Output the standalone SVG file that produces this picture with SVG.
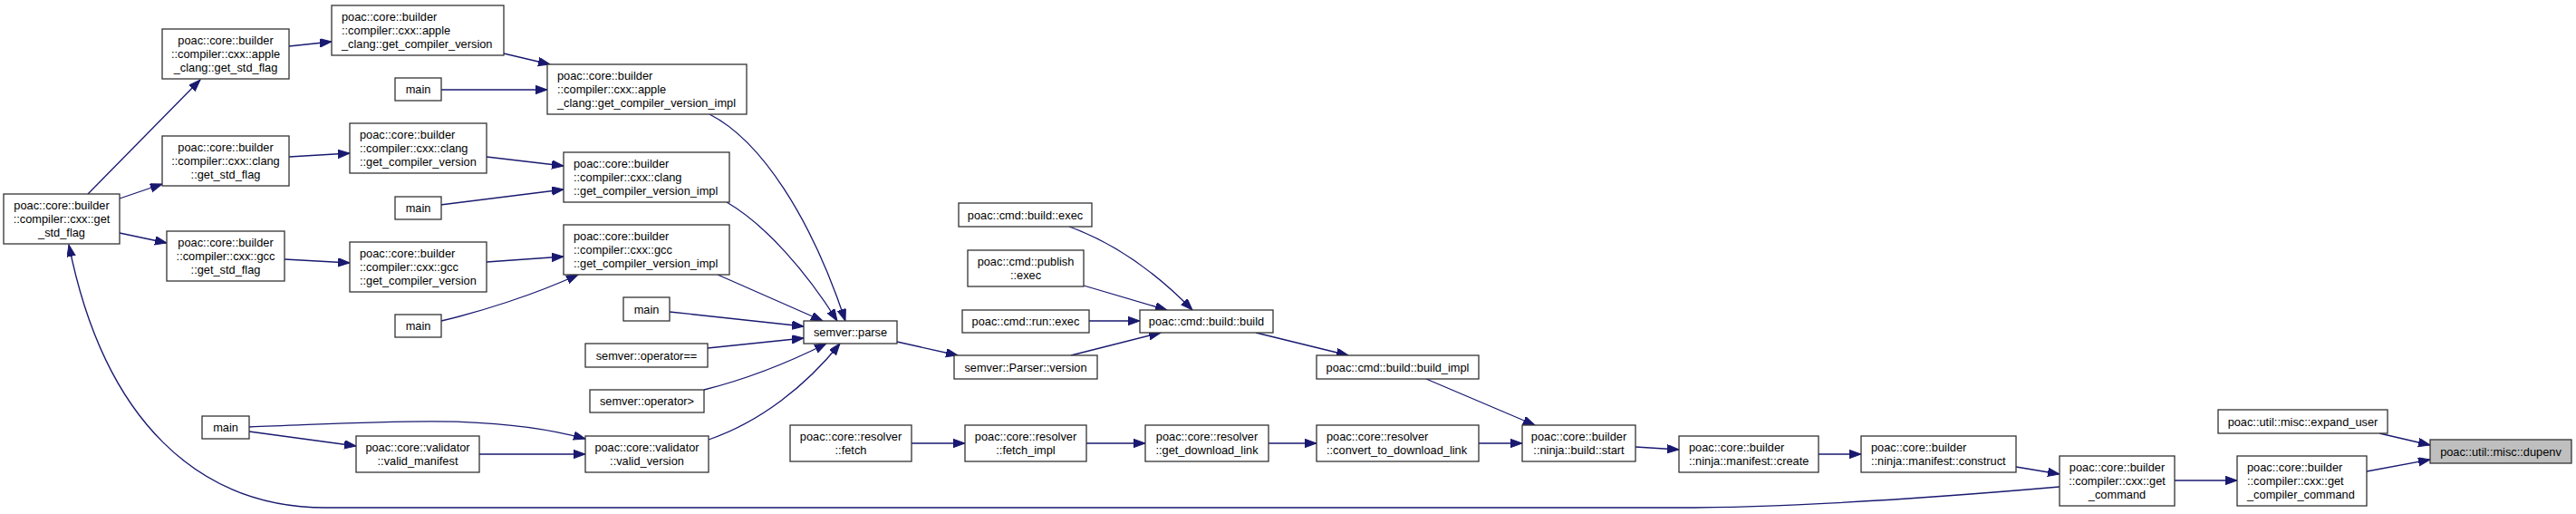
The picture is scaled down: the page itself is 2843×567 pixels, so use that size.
<svg xmlns="http://www.w3.org/2000/svg" width="2843" height="567" viewBox="0 0 2843 567">
<style>
.node rect{fill:#fff;stroke:#333;stroke-width:1.3}
.node.hl rect{fill:#bfbfbf}
text{font-family:"Liberation Sans",Arial,Helvetica,sans-serif;font-size:12.8px;fill:#000}
.c{text-anchor:middle}
.edge path{fill:none;stroke:#191970;stroke-width:1.3;marker-end:url(#arr)}
</style>
<defs>
<marker id="arr" markerUnits="userSpaceOnUse" markerWidth="15" markerHeight="11" refX="13" refY="4.7" orient="auto">
<path d="M0,0 L13,4.7 L0,9.4 z" fill="#191970" stroke="#191970" stroke-width="1"/>
</marker>
</defs>
<rect x="0" y="0" width="2843" height="567" fill="#fff"/>
<g id="edges" class="edge">
<path d="M97,214 L221,88"/>
<path d="M132,219 L179,203"/>
<path d="M132,257 L184,268"/>
<path d="M319,51 L366,46"/>
<path d="M319,173 L386,169"/>
<path d="M314,286 L386,290"/>
<path d="M556,59 L607,71"/>
<path d="M487,99 L604,99"/>
<path d="M537,173 L622,183"/>
<path d="M486,226 L622,209"/>
<path d="M537,289 L622,283"/>
<path d="M487,354 C530,344 590,325 638,303"/>
<path d="M783,126 C840,155 895,240 933,354"/>
<path d="M802,223 C845,248 890,300 924,354"/>
<path d="M792,303 L908,354"/>
<path d="M739,344 L887,360"/>
<path d="M781,384 L887,373"/>
<path d="M777,430 C825,418 870,400 912,379"/>
<path d="M782,485 C840,465 890,425 927,379"/>
<path d="M275,471 C420,466 540,455 646,484"/>
<path d="M275,476 L393,492"/>
<path d="M529,501 L646,501"/>
<path d="M2273,537 C2100,552 1950,560 1850,560 L360,560 C220,560 115,465 76,270"/>
<path d="M990,377 L1057,392"/>
<path d="M1182,392 L1281,367"/>
<path d="M1202,354 L1258,354"/>
<path d="M1196,315 L1288,342"/>
<path d="M1180,250 C1230,268 1275,300 1316,342"/>
<path d="M1386,367 L1488,392"/>
<path d="M1574,418 L1694,469"/>
<path d="M1006,489 L1065,489"/>
<path d="M1199,489 L1264,489"/>
<path d="M1400,489 L1453,489"/>
<path d="M1632,489 L1680,489"/>
<path d="M1805,493 L1853,496"/>
<path d="M2007,501 L2054,501"/>
<path d="M2225,515 L2273,523"/>
<path d="M2400,530 L2469,530"/>
<path d="M2612,520 L2682,507"/>
<path d="M2626,478 L2682,491"/>
</g>
<g id="n_get_std_flag" class="node"><rect x="4" y="214" width="128" height="55"/><text class="c" x="68" y="231">poac::core::builder</text><text class="c" x="68" y="246">::compiler::cxx::get</text><text class="c" x="68" y="261">_std_flag</text></g>
<g id="n_apple_get_std_flag" class="node"><rect x="179" y="32" width="140" height="55"/><text class="c" x="249" y="49">poac::core::builder</text><text class="c" x="249" y="64">::compiler::cxx::apple</text><text class="c" x="249" y="79">_clang::get_std_flag</text></g>
<g id="n_clang_get_std_flag" class="node"><rect x="179" y="150" width="140" height="55"/><text class="c" x="249" y="167">poac::core::builder</text><text class="c" x="249" y="182">::compiler::cxx::clang</text><text class="c" x="249" y="197">::get_std_flag</text></g>
<g id="n_gcc_get_std_flag" class="node"><rect x="184" y="255" width="130" height="55"/><text class="c" x="249" y="272">poac::core::builder</text><text class="c" x="249" y="287">::compiler::cxx::gcc</text><text class="c" x="249" y="302">::get_std_flag</text></g>
<g id="n_apple_gcv" class="node"><rect x="366" y="6" width="190" height="55"/><text x="377" y="23">poac::core::builder</text><text x="377" y="38">::compiler::cxx::apple</text><text x="377" y="53">_clang::get_compiler_version</text></g>
<g id="n_main1" class="node"><rect x="436" y="86" width="51" height="25"/><text class="c" x="461.5" y="103">main</text></g>
<g id="n_clang_gcv" class="node"><rect x="386" y="136" width="151" height="55"/><text x="397" y="153">poac::core::builder</text><text x="397" y="168">::compiler::cxx::clang</text><text x="397" y="183">::get_compiler_version</text></g>
<g id="n_main2" class="node"><rect x="436" y="217" width="51" height="25"/><text class="c" x="461.5" y="234">main</text></g>
<g id="n_gcc_gcv" class="node"><rect x="386" y="267" width="151" height="55"/><text x="397" y="284">poac::core::builder</text><text x="397" y="299">::compiler::cxx::gcc</text><text x="397" y="314">::get_compiler_version</text></g>
<g id="n_main3" class="node"><rect x="436" y="347" width="51" height="25"/><text class="c" x="461.5" y="364">main</text></g>
<g id="n_apple_impl" class="node"><rect x="604" y="71" width="220" height="55"/><text x="615" y="88">poac::core::builder</text><text x="615" y="103">::compiler::cxx::apple</text><text x="615" y="118">_clang::get_compiler_version_impl</text></g>
<g id="n_clang_impl" class="node"><rect x="622" y="168" width="183" height="55"/><text x="633" y="185">poac::core::builder</text><text x="633" y="200">::compiler::cxx::clang</text><text x="633" y="215">::get_compiler_version_impl</text></g>
<g id="n_gcc_impl" class="node"><rect x="622" y="248" width="183" height="55"/><text x="633" y="265">poac::core::builder</text><text x="633" y="280">::compiler::cxx::gcc</text><text x="633" y="295">::get_compiler_version_impl</text></g>
<g id="n_main4" class="node"><rect x="223" y="459" width="52" height="25"/><text class="c" x="249" y="476">main</text></g>
<g id="n_valid_manifest" class="node"><rect x="393" y="481" width="136" height="40"/><text class="c" x="461" y="498">poac::core::validator</text><text class="c" x="461" y="513">::valid_manifest</text></g>
<g id="n_main5" class="node"><rect x="688" y="328" width="51" height="26"/><text class="c" x="713.5" y="345.5">main</text></g>
<g id="n_op_eq" class="node"><rect x="646" y="379" width="135" height="26"/><text class="c" x="713.5" y="396.5">semver::operator==</text></g>
<g id="n_op_gt" class="node"><rect x="651" y="430" width="126" height="25"/><text class="c" x="714" y="447">semver::operator&gt;</text></g>
<g id="n_valid_version" class="node"><rect x="646" y="481" width="136" height="40"/><text class="c" x="714" y="498">poac::core::validator</text><text class="c" x="714" y="513">::valid_version</text></g>
<g id="n_parse" class="node"><rect x="887" y="354" width="103" height="25"/><text class="c" x="938.5" y="371">semver::parse</text></g>
<g id="n_fetch" class="node"><rect x="872" y="469" width="134" height="40"/><text class="c" x="939" y="486">poac::core::resolver</text><text class="c" x="939" y="501">::fetch</text></g>
<g id="n_build_exec" class="node"><rect x="1058" y="224" width="147" height="26"/><text class="c" x="1131.5" y="241.5">poac::cmd::build::exec</text></g>
<g id="n_publish_exec" class="node"><rect x="1068" y="276" width="128" height="40"/><text class="c" x="1132" y="293">poac::cmd::publish</text><text class="c" x="1132" y="308">::exec</text></g>
<g id="n_run_exec" class="node"><rect x="1062" y="342" width="140" height="25"/><text class="c" x="1132" y="359">poac::cmd::run::exec</text></g>
<g id="n_parser_version" class="node"><rect x="1053" y="392" width="158" height="26"/><text class="c" x="1132" y="409.5">semver::Parser::version</text></g>
<g id="n_build_build" class="node"><rect x="1258" y="342" width="147" height="25"/><text class="c" x="1331.5" y="359">poac::cmd::build::build</text></g>
<g id="n_build_impl" class="node"><rect x="1453" y="392" width="179" height="26"/><text class="c" x="1542.5" y="409.5">poac::cmd::build::build_impl</text></g>
<g id="n_fetch_impl" class="node"><rect x="1065" y="469" width="134" height="40"/><text class="c" x="1132" y="486">poac::core::resolver</text><text class="c" x="1132" y="501">::fetch_impl</text></g>
<g id="n_get_download_link" class="node"><rect x="1264" y="469" width="136" height="40"/><text class="c" x="1332" y="486">poac::core::resolver</text><text class="c" x="1332" y="501">::get_download_link</text></g>
<g id="n_convert" class="node"><rect x="1453" y="469" width="179" height="40"/><text x="1464" y="486">poac::core::resolver</text><text x="1464" y="501">::convert_to_download_link</text></g>
<g id="n_ninja_start" class="node"><rect x="1680" y="469" width="125" height="40"/><text class="c" x="1742.5" y="486">poac::core::builder</text><text class="c" x="1742.5" y="501">::ninja::build::start</text></g>
<g id="n_manifest_create" class="node"><rect x="1853" y="481" width="154" height="40"/><text x="1864" y="498">poac::core::builder</text><text x="1864" y="513">::ninja::manifest::create</text></g>
<g id="n_manifest_construct" class="node"><rect x="2054" y="481" width="171" height="40"/><text x="2065" y="498">poac::core::builder</text><text x="2065" y="513">::ninja::manifest::construct</text></g>
<g id="n_get_command" class="node"><rect x="2273" y="503" width="127" height="55"/><text class="c" x="2336.5" y="520">poac::core::builder</text><text class="c" x="2336.5" y="535">::compiler::cxx::get</text><text class="c" x="2336.5" y="550">_command</text></g>
<g id="n_get_compiler_command" class="node"><rect x="2469" y="503" width="143" height="55"/><text x="2480" y="520">poac::core::builder</text><text x="2480" y="535">::compiler::cxx::get</text><text x="2480" y="550">_compiler_command</text></g>
<g id="n_expand_user" class="node"><rect x="2448" y="452" width="187" height="26"/><text class="c" x="2541.5" y="469.5">poac::util::misc::expand_user</text></g>
<g id="n_dupenv" class="node hl"><rect x="2682" y="485" width="156" height="26"/><text class="c" x="2760" y="502.5">poac::util::misc::dupenv</text></g>
</svg>
